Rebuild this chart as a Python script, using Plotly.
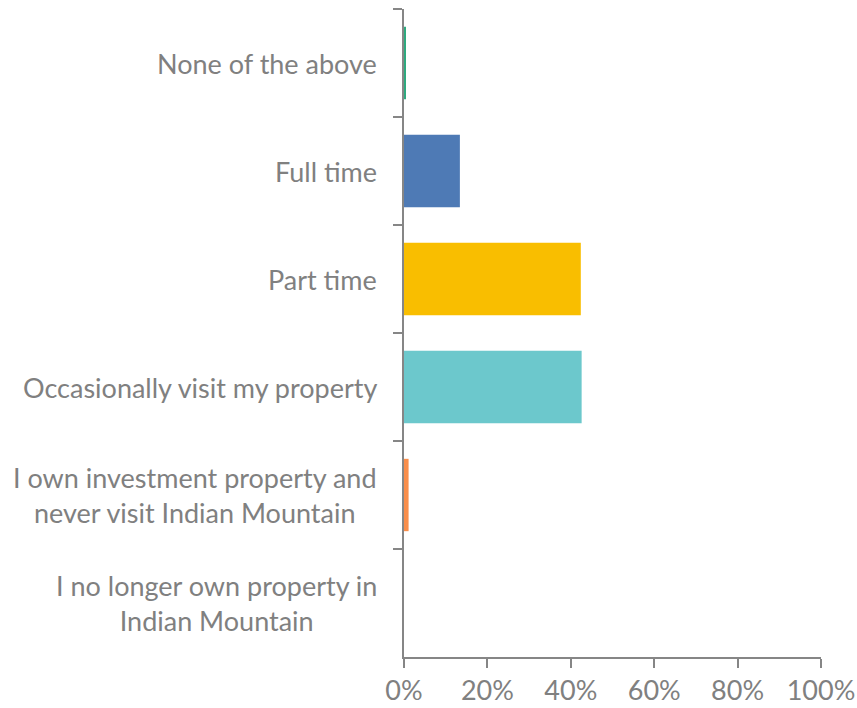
import plotly.graph_objects as go

# categories as listed from top to bottom
CATEGORIES = [
    'None of the above',
    'Full time',
    'Part time',
    'Occasionally visit my property',
    'I own investment property and<br>never visit Indian Mountain',
    'I no longer own property in<br>Indian Mountain',
]
PERCENTS = [0.3, 13.4, 42.4, 42.6, 1.1, 0.0]
BAR_COLORS = ['#2EAA7F', '#4E7AB5', '#F9BE00', '#6CC8CC', '#F98E4B', '#A5A5A5']
X_TICKS = [0, 20, 40, 60, 80, 100]

AXIS_COLOR = '#868686'
TEXT_COLOR = '#808080'
FONT = 'Lato, Calibri, sans-serif'

fig = go.Figure(go.Bar(
    y=CATEGORIES,
    x=PERCENTS,
    orientation='h',
    marker=dict(color=BAR_COLORS, line=dict(width=0)),
    hoverinfo='x+y',
))

# category labels drawn as annotations so two-line labels stay centred
annotations = [
    dict(x=0, xref='paper', y=c, yref='y', text=c, showarrow=False,
         xanchor='right', yanchor='middle', align='center', xshift=-25,
         font=dict(family=FONT, size=27, color=TEXT_COLOR))
    for c in CATEGORIES
]

fig.update_layout(
    width=857, height=708,
    margin=dict(l=404, r=36, t=9, b=51),
    paper_bgcolor='white', plot_bgcolor='white',
    bargap=0.33,
    showlegend=False,
    font=dict(family=FONT, size=27, color=TEXT_COLOR),
    annotations=annotations,
    xaxis=dict(
        range=[0, 100], tickvals=X_TICKS, ticktext=[f'{v}%' for v in X_TICKS],
        showgrid=False, zeroline=False, showline=True, linecolor=AXIS_COLOR,
        linewidth=1.5, ticks='outside', ticklen=9, tickcolor=AXIS_COLOR,
        tickwidth=1.5, tickfont=dict(family=FONT, size=27, color=TEXT_COLOR),
        automargin=False,
    ),
    yaxis=dict(
        autorange='reversed', showticklabels=False, showgrid=False,
        zeroline=False, showline=True, linecolor=AXIS_COLOR, linewidth=1.5,
        ticks='outside', tickson='boundaries', ticklen=9, tickcolor=AXIS_COLOR,
        tickwidth=1.5, automargin=False,
    ),
)

# drop the default body margin so the figure fills the window exactly
fig.write_html('out.html', config={'displayModeBar': False},
               post_script="document.body.style.margin='0';")
